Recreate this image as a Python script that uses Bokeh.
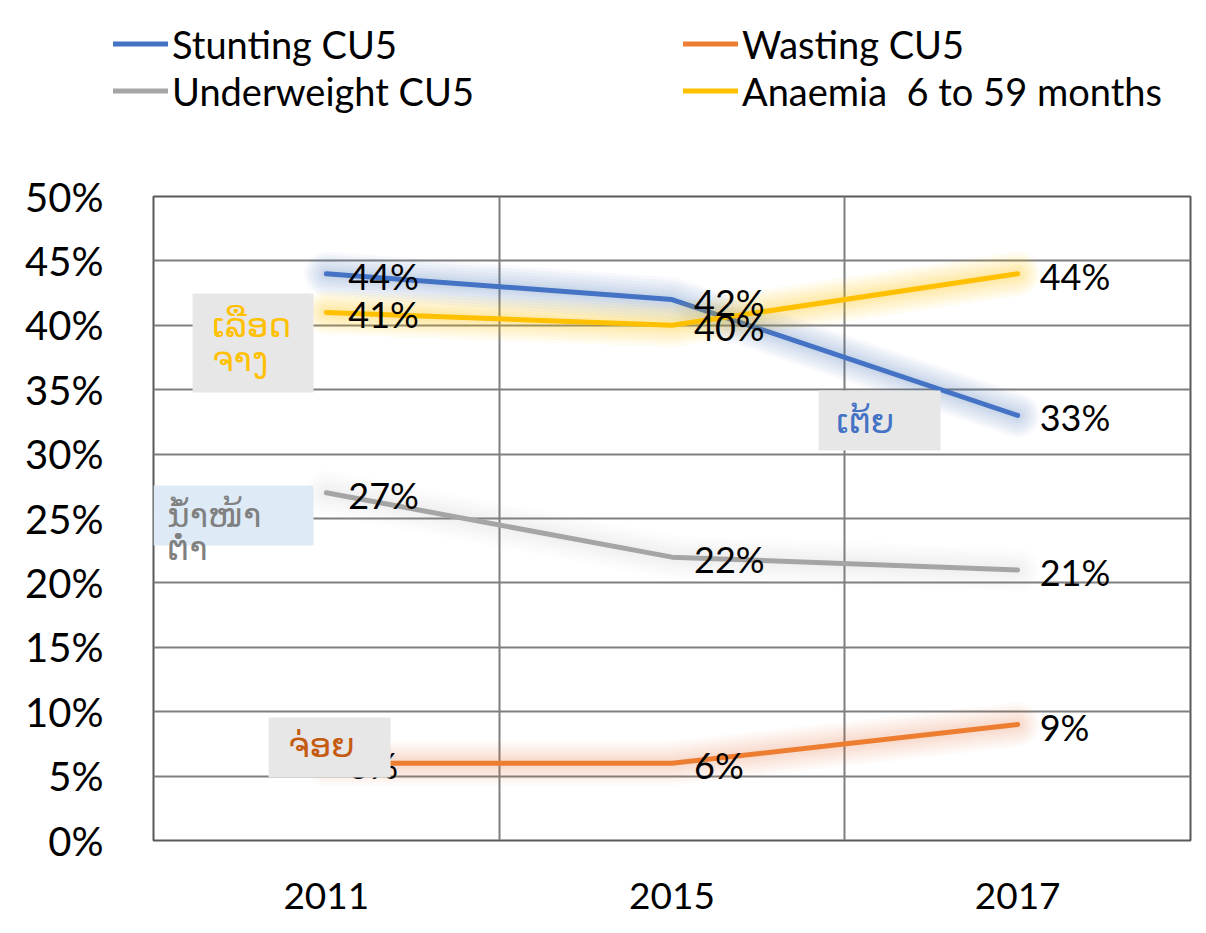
from bokeh.plotting import figure
from bokeh.layouts import column
from bokeh.models import (Range1d, FixedTicker, PrintfTickFormatter, ColumnDataSource,
                          LabelSet, Legend, LegendItem, BoxAnnotation, Label)
from bokeh.core.properties import value
from bokeh.embed import file_html
from bokeh.resources import INLINE

years = ["2011", "2015", "2017"]
stunting = [44, 42, 33]
wasting = [6, 6, 9]
underweight = [27, 22, 21]
anaemia = [41, 40, 44]

series_names = ["Stunting CU5", "Wasting CU5", "Underweight CU5", "Anaemia  6 to 59 months"]
series_values = [stunting, wasting, underweight, anaemia]
series_colors = ["#4472C4", "#ED7D31", "#A5A5A5", "#FFC000"]
glow_alpha = [0.045, 0.035, 0.025, 0.05]

lao_labels = ["ເລືອດ\nຈາງ", "ເຕ້ຍ", "ນ້ຳໜ້າ\nຕ່ຳ", "ຈ່ອຍ"]
lao_colors = ["#FFC000", "#4472C4", "#808080", "#C55A11"]

FONT = "Lato"
TOP_H = 130

xs = [i + 0.5 for i in range(len(years))]

p = figure(width=1198, height=925 - TOP_H, output_backend="svg", toolbar_location=None,
           x_range=Range1d(0, len(years)), y_range=Range1d(0, 50),
           min_border_left=153, min_border_top=196 - TOP_H, min_border_right=8, min_border_bottom=85)
p.frame_align = False
p.background_fill_color = "white"
p.border_fill_color = "white"
p.outline_line_color = "#595959"
p.outline_line_width = 2

p.xaxis.ticker = FixedTicker(ticks=xs)
p.xaxis.major_label_overrides = {x: y for x, y in zip(xs, years)}
p.yaxis.ticker = FixedTicker(ticks=list(range(0, 51, 5)))
p.yaxis.formatter = PrintfTickFormatter(format="%d%%")
for ax in (p.xaxis[0], p.yaxis[0]):
    ax.axis_line_color = None
    ax.major_tick_line_color = None
    ax.minor_tick_line_color = None
    ax.major_label_text_font = FONT
    ax.major_label_text_color = "black"
p.yaxis.major_label_text_font_size = "40px"
p.yaxis.major_label_standoff = 44
p.xaxis.major_label_text_font_size = "37px"
p.xaxis.major_label_standoff = 36

p.xgrid.ticker = FixedTicker(ticks=list(range(0, len(years) + 1)))
p.xgrid.grid_line_color = "#7F7F7F"
p.xgrid.grid_line_width = 2
p.ygrid.grid_line_color = "#7F7F7F"
p.ygrid.grid_line_width = 2

# legend strip above the chart
lg_fig = figure(width=1198, height=TOP_H, output_backend="svg", toolbar_location=None,
                x_range=Range1d(0, len(years)), y_range=Range1d(0, 50),
                min_border_left=0, min_border_right=0, min_border_top=0, min_border_bottom=0,
                x_axis_location=None, y_axis_location=None)
lg_fig.frame_align = False
lg_fig.outline_line_color = None
lg_fig.grid.visible = False
lg_fig.background_fill_color = "white"
lg_fig.border_fill_color = "white"

legend_renderers = []
for name, vals, col, ga in zip(series_names, series_values, series_colors, glow_alpha):
    src = ColumnDataSource(dict(x=xs, y=vals))
    for w in (44, 38, 32, 26, 20, 15, 10):
        p.line("x", "y", source=src, line_color=col, line_width=w, line_alpha=ga,
               line_cap="round", line_join="round")
    p.line("x", "y", source=src, line_color=col, line_width=5,
           line_cap="round", line_join="round")
    lr = lg_fig.line("x", "y", source=src, line_color=col, line_width=5,
                     line_cap="round", line_join="round")
    lr.visible = False
    legend_renderers.append(lr)

for vals in series_values:
    src = ColumnDataSource(dict(x=xs, y=vals, t=[f"{v}%" for v in vals]))
    p.add_layout(LabelSet(x="x", y="y", text="t", source=src, x_offset=22, y_offset=-2,
                          text_font=value(FONT), text_font_size="36px", text_color="black",
                          text_baseline="middle", text_align="left"))

# Lao annotation boxes (layout in data units)
box_specs = [
    (0.113, 0.463, 42.47, 34.78, "#E7E7E7"),
    (1.924, 2.277, 34.94, 30.28, "#E7E7E7"),
    (0.0, 0.463, 27.56, 22.90, "#DEEBF7"),
    (0.333, 0.686, 9.55, 4.89, "#E7E7E7"),
]
text_specs = [
    (0.170, 40.0, 2.6),
    (1.975, 32.6, 0),
    (0.040, 25.3, 2.6),
    (0.39, 7.4, 0),
]
for (l, r_, t, b, fc), (tx, ty, dy), txt, tc in zip(box_specs, text_specs, lao_labels, lao_colors):
    p.add_layout(BoxAnnotation(left=l, right=r_, top=t, bottom=b, fill_color=fc, fill_alpha=1,
                               line_color=None))
    for k, line in enumerate(txt.split("\n")):
        p.add_layout(Label(x=tx, y=ty - k * dy, text=line, text_color=tc, text_font="DejaVu Sans",
                           text_font_size="34px", text_baseline="middle", text_align="left"))

legA = Legend(items=[LegendItem(label=series_names[0], renderers=[legend_renderers[0]]),
                     LegendItem(label=series_names[2], renderers=[legend_renderers[2]])],
              location=(113, 16))
legB = Legend(items=[LegendItem(label=series_names[1], renderers=[legend_renderers[1]]),
                     LegendItem(label=series_names[3], renderers=[legend_renderers[3]])],
              location=(683, 16))
for lg in (legA, legB):
    lg.border_line_color = None
    lg.background_fill_alpha = 0
    lg.inactive_fill_alpha = 0
    lg.padding = 0
    lg.margin = 0
    lg.spacing = 0
    lg.glyph_width = 55
    lg.glyph_height = 47
    lg.label_height = 47
    lg.label_standoff = 4
    lg.label_text_font = FONT
    lg.label_text_font_size = "38px"
    lg.label_text_color = "black"
    lg.click_policy = "none"
    lg_fig.add_layout(lg, "center")

layout = column(lg_fig, p, spacing=0)
open("out.html", "w").write(file_html(layout, INLINE))
